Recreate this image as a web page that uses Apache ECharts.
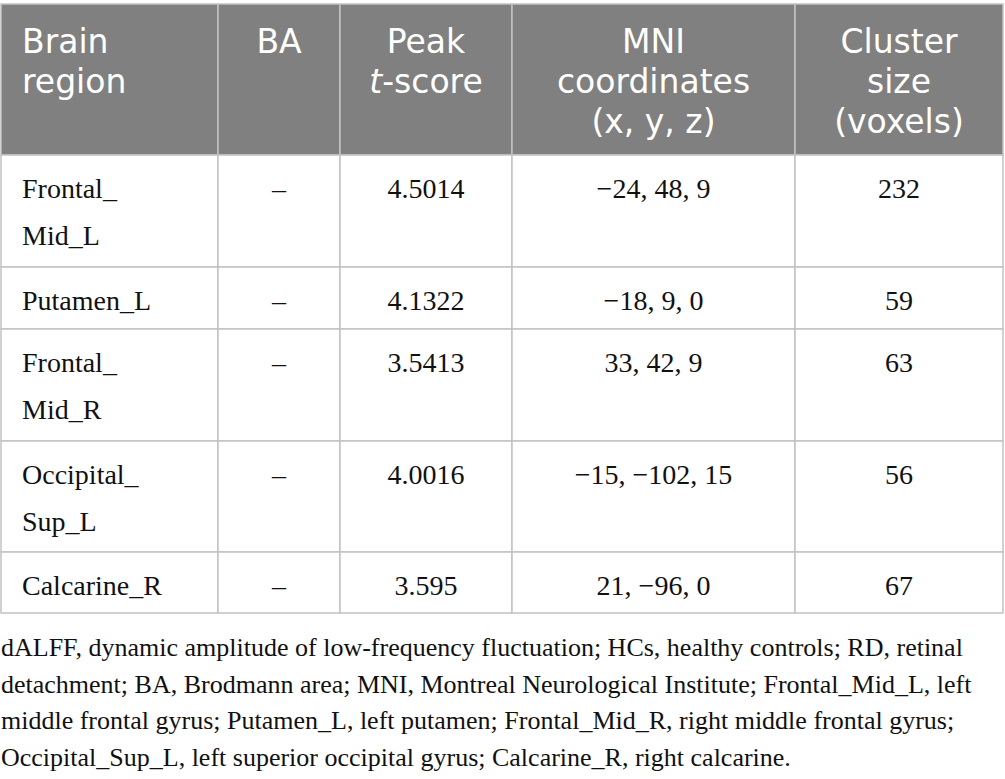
<!doctype html>
<html lang="en">
<head>
    <meta charset="UTF-8">
    <title>dALFF brain regions</title>
    <script src="https://cdn.jsdelivr.net/npm/echarts@6/dist/echarts.min.js"></script>
    <style>
        html, body { margin: 0; padding: 0; background: #fff; }
        #main { width: 1005px; height: 779px; }
    </style>
</head>
<body>
<div id="main"></div>
<script>
    // table content
    var headers = [['Brain', 'region'], ['BA'], ['Peak', '{i|t}-score'], ['MNI', 'coordinates', '(x, y, z)'], ['Cluster', 'size', '(voxels)']];
    var regions = ['Frontal_Mid_L', 'Putamen_L', 'Frontal_Mid_R', 'Occipital_Sup_L', 'Calcarine_R'];
    var brodmann = ['–', '–', '–', '–', '–'];
    var peakT = ['4.5014', '4.1322', '3.5413', '4.0016', '3.595'];
    var mniCoords = ['−24, 48, 9', '−18, 9, 0', '33, 42, 9', '−15, −102, 15', '21, −96, 0'];
    var clusterSize = [232, 59, 63, 56, 67];
    var footnoteLines = [
        'dALFF, dynamic amplitude of low-frequency fluctuation; HCs, healthy controls; RD, retinal',
        'detachment; BA, Brodmann area; MNI, Montreal Neurological Institute; Frontal_Mid_L, left',
        'middle frontal gyrus; Putamen_L, left putamen; Frontal_Mid_R, right middle frontal gyrus;',
        'Occipital_Sup_L, left superior occipital gyrus; Calcarine_R, right calcarine.'
    ];

    // layout, in the units of the hidden axes (= px of the 1005x779 frame)
    var colEdges = [1, 218, 340, 512, 795, 1003];
    var rowEdges = [4, 155, 267, 329, 441, 552, 613];

    // long region names break after the first underscore
    function splitRegion(name) {
        var parts = name.split('_');
        if (parts.length > 2) {
            return parts[0] + '_\n' + parts.slice(1).join('_');
        }
        return name;
    }

    var cells = [];
    headers.forEach(function (lines, c) {
        cells.push({col: c, row: 0, text: lines.join('\n')});
    });
    regions.forEach(function (name, i) {
        var rowTexts = [splitRegion(name), brodmann[i], peakT[i], mniCoords[i], String(clusterSize[i])];
        rowTexts.forEach(function (t, c) {
            cells.push({col: c, row: i + 1, text: t});
        });
    });

    var headFont = {fontFamily: 'DejaVu Sans', fontSize: 33, lineHeight: 40, fill: '#fff'};
    var bodyFont = {fontFamily: 'Liberation Serif', fontSize: 28, lineHeight: 47, fill: '#111'};

    function renderCell(params, api) {
        var cell = cells[params.dataIndex];
        var c = cell.col, r = cell.row;
        var p0 = api.coord([colEdges[c], rowEdges[r]]);
        var p1 = api.coord([colEdges[c + 1], rowEdges[r + 1]]);
        var isHead = r === 0;
        var font = isHead ? headFont : bodyFont;
        var tx = c === 0 ? p0[0] + 21 : (p0[0] + p1[0]) / 2;
        var ty = p0[1] + (isHead ? 17.5 : 9.5);
        return {
            type: 'group',
            children: [{
                type: 'rect',
                shape: {x: p0[0], y: p0[1], width: p1[0] - p0[0], height: p1[1] - p0[1]},
                style: {fill: isHead ? '#808080' : '#fff', stroke: '#c2c2c2', lineWidth: 1.5}
            }, {
                type: 'text',
                x: tx,
                y: ty,
                style: {
                    text: cell.text,
                    fontFamily: font.fontFamily,
                    fontSize: font.fontSize,
                    lineHeight: font.lineHeight,
                    fill: font.fill,
                    align: c === 0 ? 'left' : 'center',
                    verticalAlign: 'top',
                    rich: {
                        i: {
                            fontStyle: 'italic',
                            fontFamily: font.fontFamily,
                            fontSize: font.fontSize,
                            lineHeight: font.lineHeight,
                            fill: font.fill
                        }
                    }
                }
            }]
        };
    }

    var myChart = echarts.init(document.getElementById('main'), null, {renderer: 'svg'});
    var option = {
        animation: false,
        backgroundColor: '#fff',
        grid: {left: 0, right: 0, top: 0, bottom: 0},
        xAxis: {type: 'value', min: 0, max: 1005, show: false},
        yAxis: {type: 'value', min: 0, max: 779, inverse: true, show: false},
        graphic: [{
            type: 'text',
            left: 1,
            top: 629,
            style: {
                text: footnoteLines.join('\n'),
                fontFamily: 'Liberation Serif',
                fontSize: 26,
                lineHeight: 36.7,
                fill: '#111'
            }
        }],
        series: [{
            type: 'custom',
            clip: false,
            renderItem: renderCell,
            data: cells.map(function (cell) { return [cell.col, cell.row]; })
        }]
    };
    myChart.setOption(option);
</script>
</body>
</html>
